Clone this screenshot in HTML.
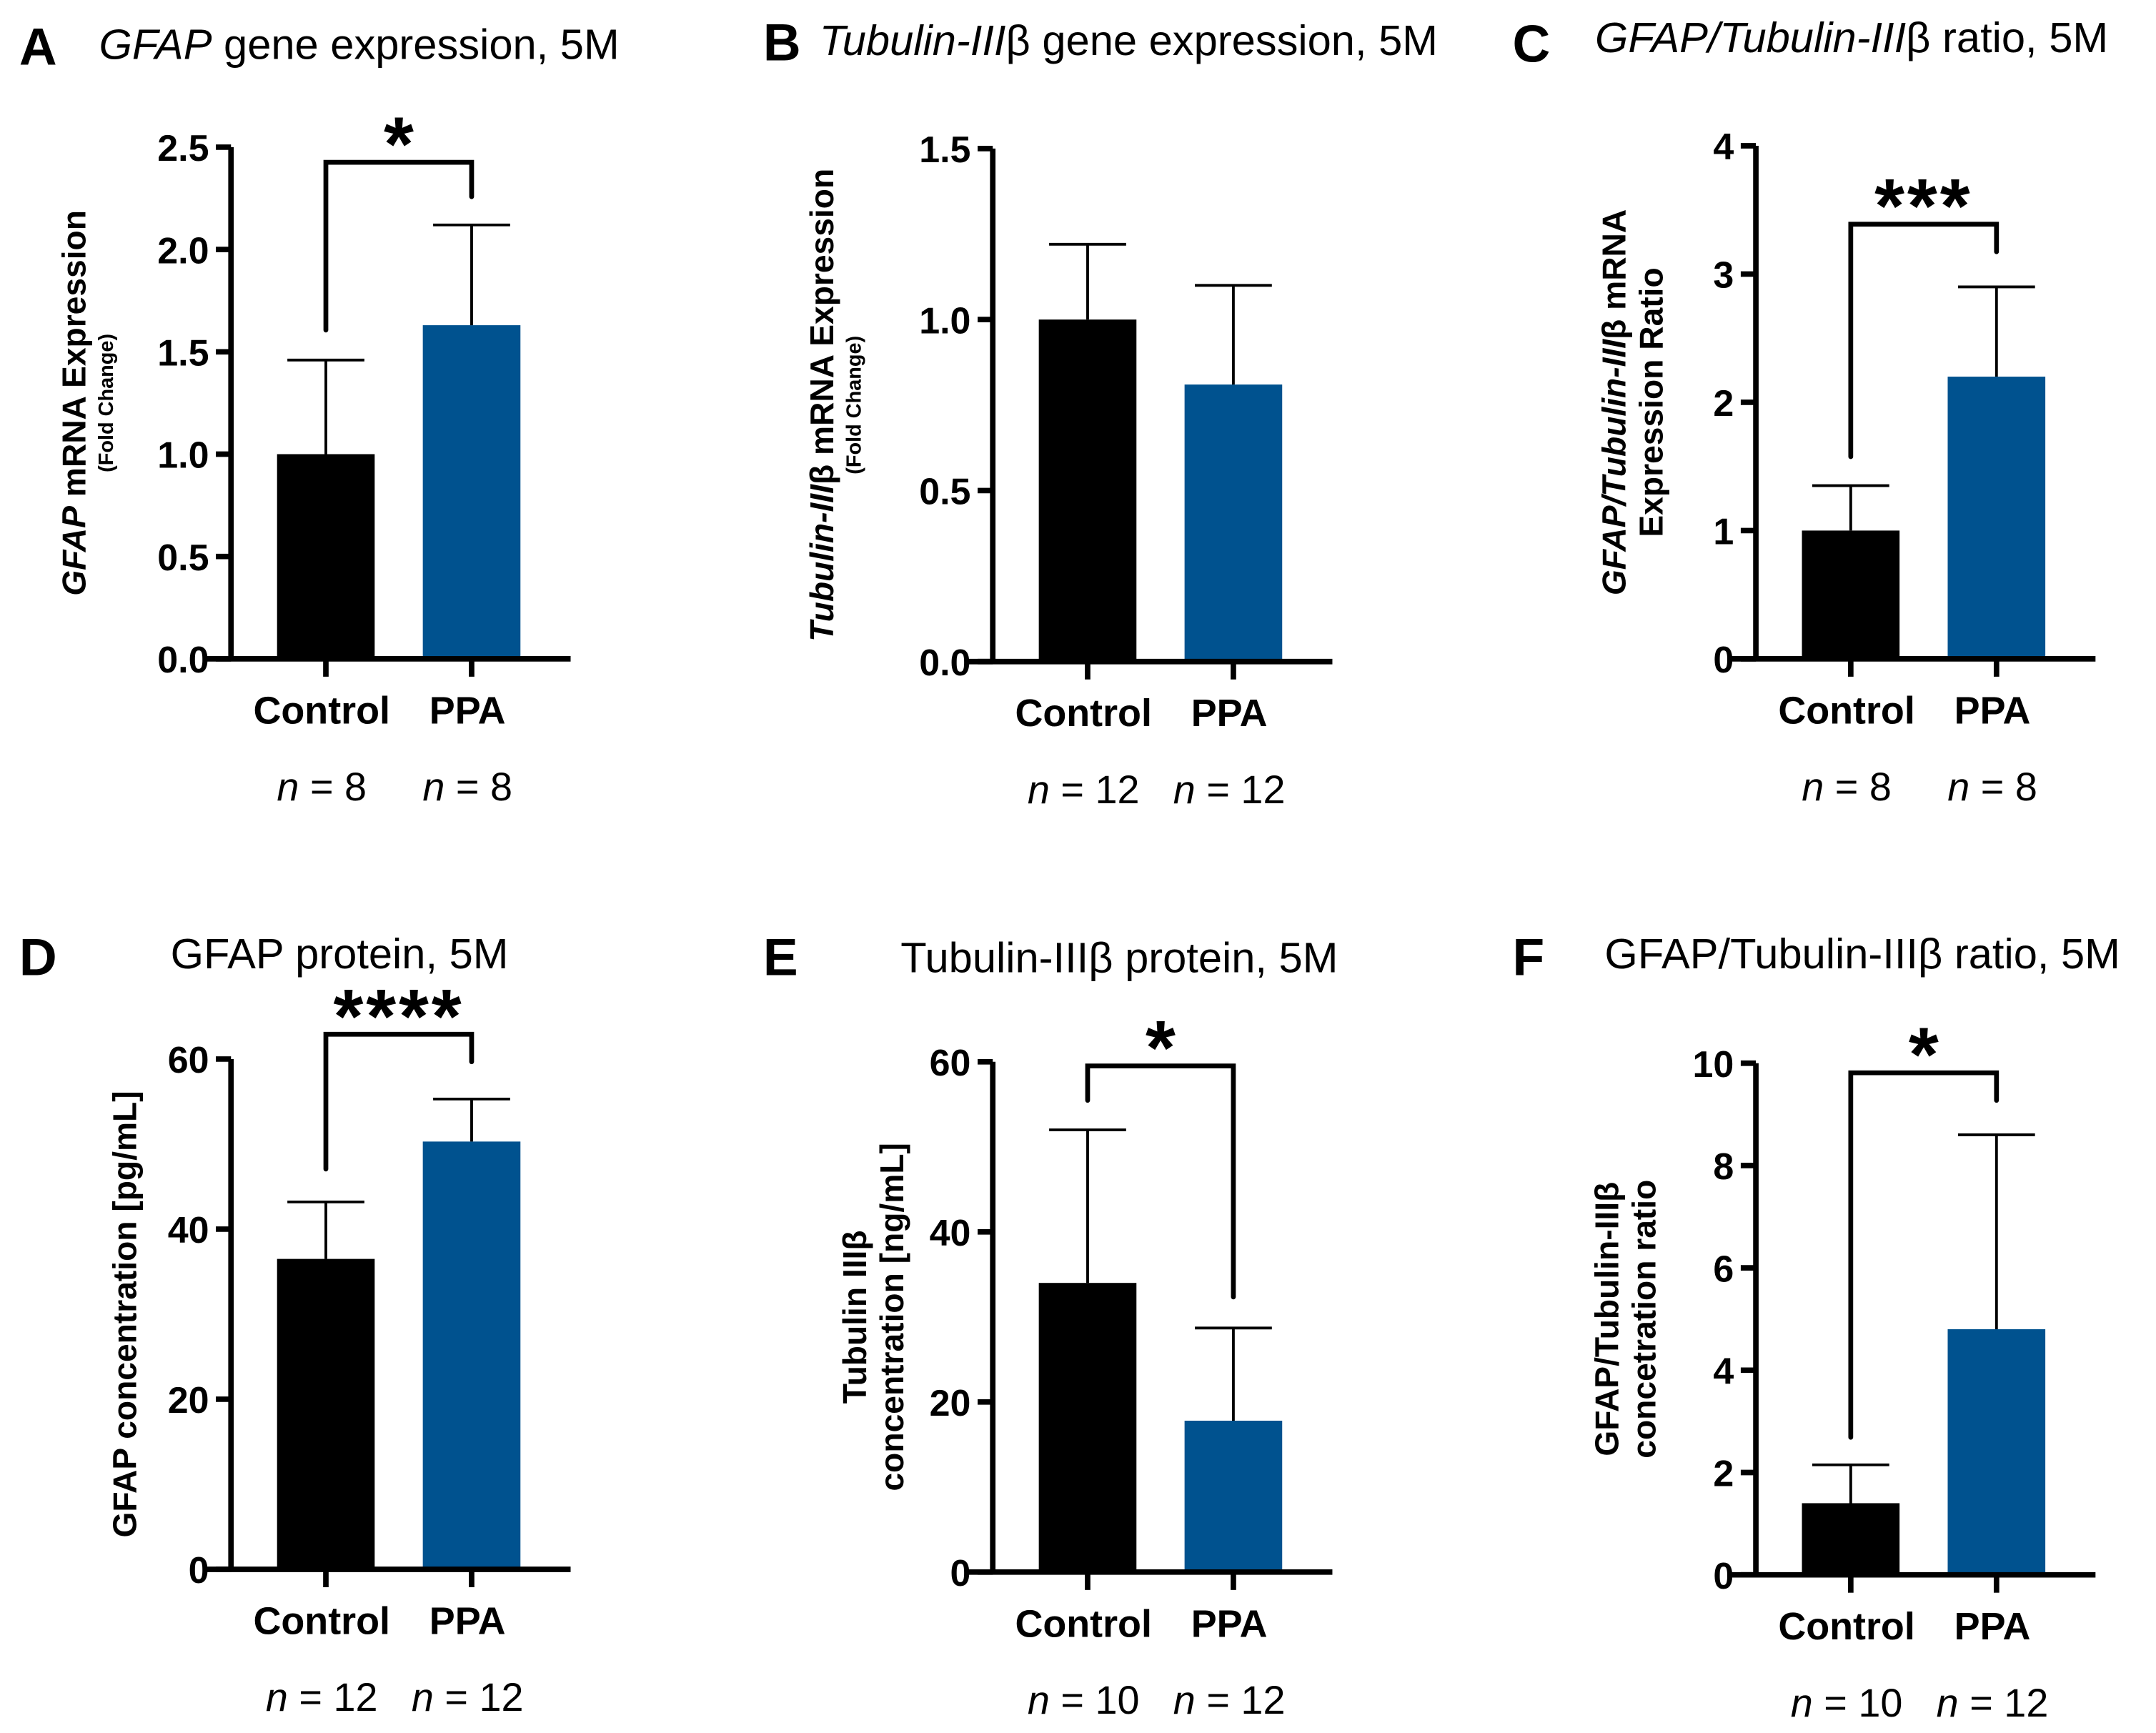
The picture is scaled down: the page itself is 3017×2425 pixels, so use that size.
<!DOCTYPE html>
<html><head><meta charset="utf-8"><style>
html,body{margin:0;padding:0;background:#fff}
svg{display:block}
text{font-family:"Liberation Sans",Arial,sans-serif}
.t{font-family:"Liberation Sans",sans-serif;font-size:31px}
</style></head><body>
<svg id="fig" width="3017" height="2425" viewBox="0 0 1568 1260" preserveAspectRatio="none" xmlns="http://www.w3.org/2000/svg">
<g>
<text x="14" y="47" font-size="38" font-weight="bold">A</text>
<text x="72" y="43" class="t"><tspan font-style="italic">GFAP</tspan> gene expression, 5M</text>
<text x="555" y="44" font-size="38" font-weight="bold">B</text>
<text x="596" y="40" class="t"><tspan font-style="italic">Tubulin-III</tspan>β gene expression, 5M</text>
<text x="1100" y="45" font-size="38" font-weight="bold">C</text>
<text x="1160" y="38" class="t"><tspan font-style="italic">GFAP/Tubulin-III</tspan>β ratio, 5M</text>
<text x="14" y="709" font-size="38" font-weight="bold">D</text>
<text x="124" y="704" class="t">GFAP protein, 5M</text>
<text x="555" y="709" font-size="38" font-weight="bold">E</text>
<text x="655" y="707" class="t">Tubulin-IIIβ protein, 5M</text>
<text x="1100" y="709" font-size="38" font-weight="bold">F</text>
<text x="1167" y="704" class="t">GFAP/Tubulin-IIIβ ratio, 5M</text>
</g>
<g id="plots"></g>
</svg>
<script>
// data
const categories = ["Control", "PPA"];
const aMeans = [1.0, 1.63], aErr = [1.46, 2.12];
const bMeans = [1.0, 0.81], bErr = [1.22, 1.10];
const cMeans = [1.0, 2.2], cErr = [1.35, 2.9];
const dMeans = [36.5, 50.3], dErr = [43.2, 55.3];
const eMeans = [34, 17.8], eErr = [52, 28.7];
const fMeans = [1.4, 4.8], fErr = [2.15, 8.6];
const aTicks = ["0.0","0.5","1.0","1.5","2.0","2.5"];
const bTicks = ["0.0","0.5","1.0","1.5"];
const cTicks = ["0","1","2","3","4"];
const dTicks = ["0","20","40","60"];
const eTicks = ["0","20","40","60"];
const fTicks = ["0","2","4","6","8","10"];
const aN = [8, 8], bN = [12, 12], cN = [8, 8], dN = [12, 12], eN = [10, 12], fN = [10, 12];
const aSig = "*", cSig = "***", dSig = "****", eSig = "*", fSig = "*";

const NS = "http://www.w3.org/2000/svg";
const root = document.getElementById("plots");
function mk(tag, attrs, parent, txt) {
  const e = document.createElementNS(NS, tag);
  for (const k in attrs) e.setAttribute(k, attrs[k]);
  if (txt !== undefined) e.textContent = txt;
  parent.appendChild(e);
  return e;
}
const colors = ["#000000", "#00528f"];

function panel(id, ax, top, bot, ticks, means, errs, ns, sig, br, ylab) {
  const g = mk("g", {}, root);
  
  
  const tmin = parseFloat(ticks[0]), tmax = parseFloat(ticks[ticks.length - 1]);
  const y = v => bot - (v - tmin) / (tmax - tmin) * (bot - top);
  const xc = [ax + 69, ax + 175];
  means.forEach((m, i) => {
    const r = mk("rect", {x: xc[i] - 35.5, y: y(m), width: 71, height: bot - y(m), fill: colors[i]}, g);
    
    
    const eb = mk("path", {d: `M${xc[i]} ${y(m)}V${y(errs[i])}M${xc[i]-28} ${y(errs[i])}H${xc[i]+28}`, stroke: "#000", "stroke-width": 2, fill: "none"}, g);
    
    
  });
  const yax = mk("line", {x1: ax, y1: top, x2: ax, y2: bot, stroke: "#000", "stroke-width": 4}, g);
  
  
  const xax = mk("line", {x1: ax - 20, y1: bot, x2: ax + 247, y2: bot, stroke: "#000", "stroke-width": 4}, g);
  
  
  ticks.forEach(t => {
    const v = parseFloat(t);
    mk("line", {x1: ax - 11, y1: y(v), x2: ax, y2: y(v), stroke: "#000", "stroke-width": 4}, g);
    const tl = mk("text", {x: ax - 16, y: y(v) + 10, "text-anchor": "end", "font-size": 27, "font-weight": "bold"}, g, t);
    
    
  });
  categories.forEach((c, i) => {
    mk("line", {x1: xc[i], y1: bot, x2: xc[i], y2: bot + 13, stroke: "#000", "stroke-width": 4}, g);
    const cl = mk("text", {x: xc[i] - 3, y: bot + 47, "text-anchor": "middle", "font-size": 28, "font-weight": "bold"}, g, c);
    
    
    const nl = mk("text", {x: xc[i] - 3, y: bot + 103, "text-anchor": "middle", "font-size": 29}, g);
    
    
    mk("tspan", {"font-style": "italic"}, nl, "n");
    mk("tspan", {}, nl, " = " + ns[i]);
  });
  if (sig) {
    const b = mk("path", {d: `M${xc[0]} ${br[1]}V${br[0]}H${xc[1]}V${br[2]}`, stroke: "#000", "stroke-width": 3.5, fill: "none", "stroke-linecap": "round"}, g);
    
    
    const s = mk("text", {x: (xc[0] + xc[1]) / 2, y: br[0] + 6, "text-anchor": "middle", "font-size": 56, "font-weight": "bold", "letter-spacing": sig.length > 1 ? 2 : 0}, g, sig);
    
    
  }
  const yl = mk("text", {transform: `translate(${ylab.x},${(top + bot) / 2}) rotate(-90)`, "text-anchor": "middle", "font-size": 23, "font-weight": "bold"}, g);
  
  
  ylab.lines.forEach((ln, li) => {
    const ts = mk("tspan", {x: 0, y: ylab.dy[li], "font-size": ylab.sz[li]}, yl);
    ln.forEach(p => mk("tspan", p[1] ? {"font-style": "italic"} : {}, ts, p[0]));
  });
}

panel("panel-a", 168, 107, 479, aTicks, aMeans, aErr, aN, aSig, [118, 240, 143],
  {x: 66, lines: [[["GFAP", 1], [" mRNA Expression", 0]], [["(Fold Change)", 0]]], dy: [-4, 16], sz: [24, 15]});
panel("panel-b", 722, 108, 481, bTicks, bMeans, bErr, bN, null, null,
  {x: 610, lines: [[["Tubulin-III", 1], ["β mRNA Expression", 0]], [["(Fold Change)", 0]]], dy: [-4, 16], sz: [24, 15]});
panel("panel-c", 1277, 106, 479, cTicks, cMeans, cErr, cN, cSig, [163, 332, 183],
  {x: 1188, lines: [[["GFAP/Tubulin-III", 1], ["β  mRNA", 0]], [["Expression Ratio", 0]]], dy: [-6, 21], sz: [24, 24]});
panel("panel-d", 168, 770, 1141, dTicks, dMeans, dErr, dN, dSig, [752, 850, 772],
  {x: 99, lines: [[["GFAP concentration [pg/mL]", 0]]], dy: [0], sz: [24]});
panel("panel-e", 722, 772, 1143, eTicks, eMeans, eErr, eN, eSig, [775, 800, 943],
  {x: 636, lines: [[["Tubulin IIIβ", 0]], [["concentration [ng/mL]", 0]]], dy: [-6, 21], sz: [24, 24]});
panel("panel-f", 1277, 773, 1145, fTicks, fMeans, fErr, fN, fSig, [780, 1045, 800],
  {x: 1183, lines: [[["GFAP/Tubulin-IIIβ", 0]], [["concetration ratio", 0]]], dy: [-6, 21], sz: [24, 24]});
</script>
</body></html>
